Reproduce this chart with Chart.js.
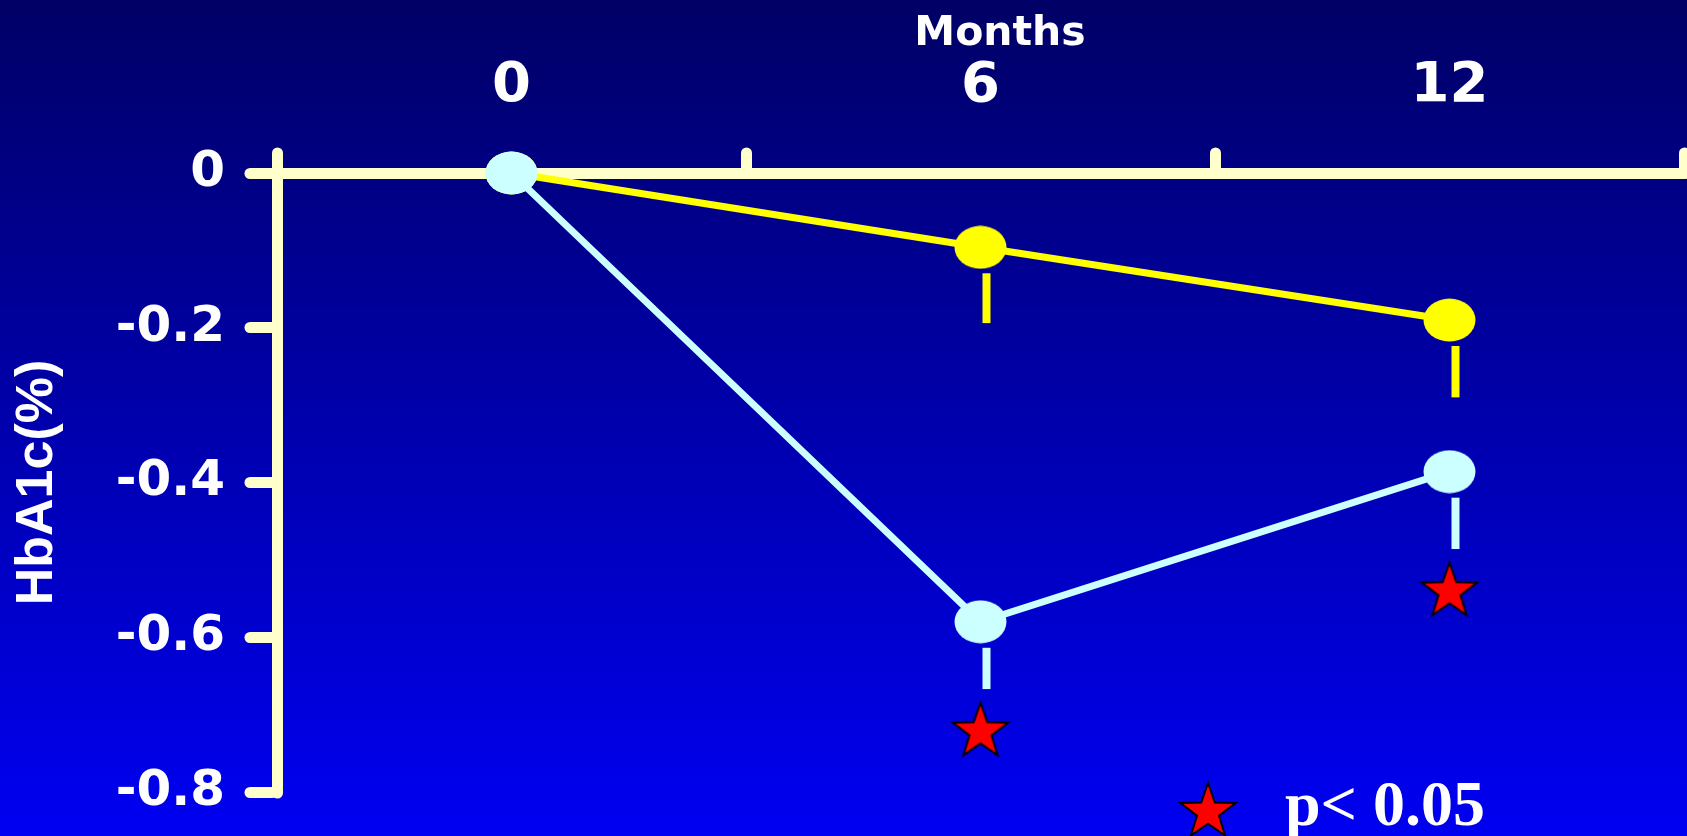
<!DOCTYPE html>
<html>
<head>
<meta charset="utf-8">
<title>HbA1c change over 12 months</title>
<script src="https://cdn.jsdelivr.net/npm/chart.js@4.4.1/dist/chart.umd.min.js"></script>
<style>
    html, body { margin: 0; padding: 0; background: #000066; }
    #wrap { width: 1687px; height: 836px; position: relative; }
</style>
</head>
<body>
<div id="wrap"><canvas id="hba1cChart"></canvas></div>
<script>
// Values
const months = [0, 6, 12];
const yellowValues = [0, -0.096, -0.19];
const yellowErrors = [0, 0.098, 0.1];
const cyanValues = [0, -0.58, -0.386];
const cyanErrors = [0, 0.087, 0.1];
const starMonths = [6, 12];
const starValues = [-0.722, -0.541];
const monthLabels = [0, 6, 12];

const CREAM = '#FFFFCC';
const YELLOW = '#FFFF00';
const CYAN = '#CCFFFF';

// Ellipse marker as a small canvas
function makeEllipse(color, w, h) {
    const c = document.createElement('canvas');
    c.width = w;
    c.height = h;
    const g = c.getContext('2d');
    g.fillStyle = color;
    g.beginPath();
    g.ellipse(w / 2, h / 2, w / 2 - 0.5, h / 2 - 0.5, 0, 0, Math.PI * 2);
    g.fill();
    return c;
}

// Red five point star with black outline
function makeStar(size) {
    const c = document.createElement('canvas');
    c.width = size;
    c.height = size;
    const g = c.getContext('2d');
    const cx = size / 2, cy = size / 2;
    const R = size / 2 - 3, r = R * 0.4;
    g.beginPath();
    for (let i = 0; i < 10; i++) {
        const rad = i % 2 === 0 ? R : r;
        const a = -Math.PI / 2 + i * Math.PI / 5;
        const px = cx + rad * Math.cos(a);
        const py = cy + rad * Math.sin(a);
        if (i === 0) g.moveTo(px, py); else g.lineTo(px, py);
    }
    g.closePath();
    g.fillStyle = '#FF0000';
    g.fill();
    g.lineWidth = 2;
    g.strokeStyle = '#000000';
    g.stroke();
    return c;
}

const yellowDot = makeEllipse(YELLOW, 53, 44);
const cyanDot = makeEllipse(CYAN, 53, 44);
const starImg = makeStar(64);

// Background gradient, and round caps for axis lines
const backgroundPlugin = {
    id: 'background',
    beforeDraw(chart) {
        const ctx = chart.ctx;
        const g = ctx.createLinearGradient(0, 0, 0, chart.height);
        g.addColorStop(0, '#000066');
        g.addColorStop(1, '#0000F2');
        ctx.save();
        ctx.fillStyle = g;
        ctx.fillRect(0, 0, chart.width, chart.height);
        ctx.restore();
        ctx.lineCap = 'round';
    }
};

// One-sided (downward) error bars
const errorBarPlugin = {
    id: 'errorBars',
    afterDatasetsDraw(chart) {
        const ctx = chart.ctx;
        const x = chart.scales.x;
        const y = chart.scales.y;
        ctx.save();
        ctx.lineCap = 'butt';
        ctx.lineWidth = 8;
        [[yellowValues, yellowErrors, YELLOW], [cyanValues, cyanErrors, CYAN]].forEach(([vals, errs, color]) => {
            ctx.strokeStyle = color;
            months.forEach((m, i) => {
                if (!errs[i]) return;
                const px = x.getPixelForValue(m) + 6;
                const top = y.getPixelForValue(vals[i]) + 26;
                const bottom = y.getPixelForValue(vals[i] - errs[i]);
                ctx.beginPath();
                ctx.moveTo(px, top);
                ctx.lineTo(px, bottom);
                ctx.stroke();
            });
        });
        ctx.restore();
    }
};

// "Months" caption and the star key
const textPlugin = {
    id: 'captions',
    afterDraw(chart) {
        const ctx = chart.ctx;
        ctx.save();
        ctx.fillStyle = '#FFFFFF';
        ctx.font = 'bold 41px "DejaVu Sans"';
        ctx.textAlign = 'center';
        ctx.textBaseline = 'alphabetic';
        ctx.fillText('Months', 1000, 45);

        ctx.drawImage(starImg, 1208 - 32, 812 - 32);
        ctx.font = 'bold 64px "Liberation Serif", "Times New Roman", serif';
        ctx.textAlign = 'left';
        ctx.fillText('p< 0.05', 1285, 825);
        ctx.restore();
    }
};

function initializeChart() {
    const ctx = document.getElementById('hba1cChart');
    if (!ctx) return;

    new Chart(ctx, {
        type: 'line',
        data: {
            datasets: [{
                label: 'Cyan group',
                data: months.map((m, i) => ({ x: m, y: cyanValues[i] })),
                borderColor: CYAN,
                borderWidth: 7,
                pointStyle: cyanDot,
                tension: 0,
                clip: false,
                order: 1
            }, {
                label: 'Yellow group',
                data: months.map((m, i) => ({ x: m, y: yellowValues[i] })),
                borderColor: YELLOW,
                borderWidth: 7,
                pointStyle: yellowDot,
                tension: 0,
                clip: false,
                order: 2
            }, {
                label: 'p< 0.05',
                data: starMonths.map((m, i) => ({ x: m, y: starValues[i] })),
                showLine: false,
                pointStyle: starImg,
                clip: false,
                order: 0
            }]
        },
        options: {
            responsive: true,
            maintainAspectRatio: false,
            animation: false,
            events: [],
            layout: {
                autoPadding: false,
                padding: { left: 0, top: 0, right: 3, bottom: 44 }
            },
            plugins: {
                legend: { display: false },
                tooltip: { enabled: false }
            },
            scales: {
                x: {
                    type: 'linear',
                    position: 'top',
                    min: -3,
                    max: 15,
                    afterFit: scale => {
                        scale.height = 173;
                        scale.paddingLeft = 0;
                        scale.paddingRight = 0;
                    },
                    ticks: {
                        stepSize: 3,
                        autoSkip: false,
                        maxRotation: 0,
                        padding: 33,
                        color: '#FFFFFF',
                        font: { family: '"DejaVu Sans"', size: 56, weight: 'bold' },
                        callback: value => monthLabels.includes(value) ? String(value) : ''
                    },
                    grid: {
                        drawOnChartArea: false,
                        tickLength: 20,
                        tickWidth: 11,
                        tickColor: c => (c.tick && monthLabels.includes(c.tick.value)) ? 'rgba(0,0,0,0)' : CREAM
                    },
                    border: { color: CREAM, width: 11 }
                },
                y: {
                    min: -0.8,
                    max: 0,
                    afterFit: scale => {
                        scale.width = 277;
                        scale.paddingTop = 0;
                        scale.paddingBottom = 0;
                    },
                    ticks: {
                        stepSize: 0.2,
                        padding: 25,
                        color: '#FFFFFF',
                        font: { family: '"DejaVu Sans"', size: 50, weight: 'bold' }
                    },
                    grid: {
                        drawOnChartArea: false,
                        tickLength: 27,
                        tickWidth: 11,
                        tickColor: CREAM
                    },
                    border: { color: CREAM, width: 11 },
                    title: {
                        display: true,
                        text: 'HbA1c(%)',
                        color: '#FFFFFF',
                        font: { family: '"Liberation Sans"', size: 52, weight: 'bold' },
                        padding: { top: 6, bottom: 0 }
                    }
                }
            }
        },
        plugins: [backgroundPlugin, errorBarPlugin, textPlugin]
    });
}

initializeChart();
</script>
</body>
</html>
